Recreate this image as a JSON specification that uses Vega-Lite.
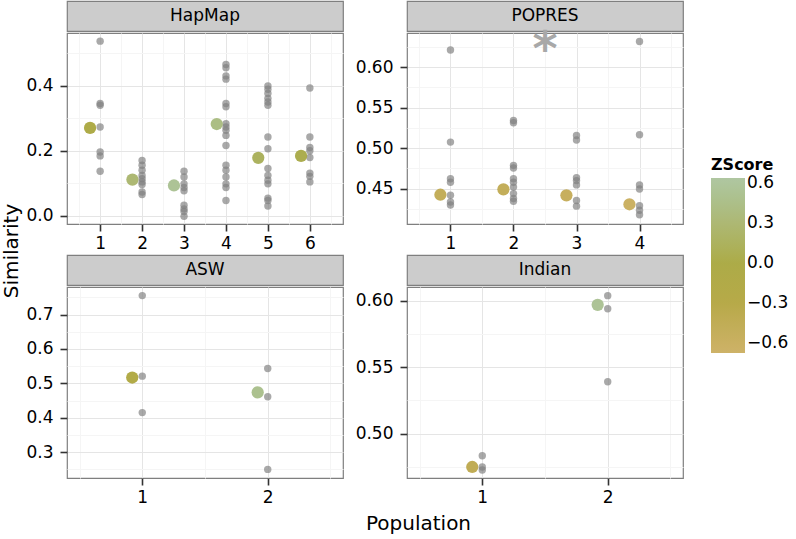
{
  "$schema": "https://vega.github.io/schema/vega-lite/v6.json",
  "padding": {"left": 0, "top": 0, "right": 0, "bottom": 0},
  "background": "white",
  "spacing": -2,
  "datasets": {
    "pts": [
      {"Panel": "HapMap", "Population": 1, "Similarity": 0.537},
      {"Panel": "HapMap", "Population": 1, "Similarity": 0.345},
      {"Panel": "HapMap", "Population": 1, "Similarity": 0.340},
      {"Panel": "HapMap", "Population": 1, "Similarity": 0.273},
      {"Panel": "HapMap", "Population": 1, "Similarity": 0.196},
      {"Panel": "HapMap", "Population": 1, "Similarity": 0.184},
      {"Panel": "HapMap", "Population": 1, "Similarity": 0.137},
      {"Panel": "HapMap", "Population": 2, "Similarity": 0.170},
      {"Panel": "HapMap", "Population": 2, "Similarity": 0.155},
      {"Panel": "HapMap", "Population": 2, "Similarity": 0.140},
      {"Panel": "HapMap", "Population": 2, "Similarity": 0.124},
      {"Panel": "HapMap", "Population": 2, "Similarity": 0.114},
      {"Panel": "HapMap", "Population": 2, "Similarity": 0.104},
      {"Panel": "HapMap", "Population": 2, "Similarity": 0.096},
      {"Panel": "HapMap", "Population": 2, "Similarity": 0.073},
      {"Panel": "HapMap", "Population": 2, "Similarity": 0.065},
      {"Panel": "HapMap", "Population": 3, "Similarity": 0.137},
      {"Panel": "HapMap", "Population": 3, "Similarity": 0.119},
      {"Panel": "HapMap", "Population": 3, "Similarity": 0.098},
      {"Panel": "HapMap", "Population": 3, "Similarity": 0.087},
      {"Panel": "HapMap", "Population": 3, "Similarity": 0.077},
      {"Panel": "HapMap", "Population": 3, "Similarity": 0.032},
      {"Panel": "HapMap", "Population": 3, "Similarity": 0.021},
      {"Panel": "HapMap", "Population": 3, "Similarity": 0.013},
      {"Panel": "HapMap", "Population": 3, "Similarity": -0.002},
      {"Panel": "HapMap", "Population": 4, "Similarity": 0.465},
      {"Panel": "HapMap", "Population": 4, "Similarity": 0.455},
      {"Panel": "HapMap", "Population": 4, "Similarity": 0.430},
      {"Panel": "HapMap", "Population": 4, "Similarity": 0.420},
      {"Panel": "HapMap", "Population": 4, "Similarity": 0.345},
      {"Panel": "HapMap", "Population": 4, "Similarity": 0.335},
      {"Panel": "HapMap", "Population": 4, "Similarity": 0.283},
      {"Panel": "HapMap", "Population": 4, "Similarity": 0.273},
      {"Panel": "HapMap", "Population": 4, "Similarity": 0.263},
      {"Panel": "HapMap", "Population": 4, "Similarity": 0.247},
      {"Panel": "HapMap", "Population": 4, "Similarity": 0.216},
      {"Panel": "HapMap", "Population": 4, "Similarity": 0.155},
      {"Panel": "HapMap", "Population": 4, "Similarity": 0.140},
      {"Panel": "HapMap", "Population": 4, "Similarity": 0.119},
      {"Panel": "HapMap", "Population": 4, "Similarity": 0.098},
      {"Panel": "HapMap", "Population": 4, "Similarity": 0.087},
      {"Panel": "HapMap", "Population": 4, "Similarity": 0.047},
      {"Panel": "HapMap", "Population": 5, "Similarity": 0.399},
      {"Panel": "HapMap", "Population": 5, "Similarity": 0.389},
      {"Panel": "HapMap", "Population": 5, "Similarity": 0.376},
      {"Panel": "HapMap", "Population": 5, "Similarity": 0.361},
      {"Panel": "HapMap", "Population": 5, "Similarity": 0.350},
      {"Panel": "HapMap", "Population": 5, "Similarity": 0.340},
      {"Panel": "HapMap", "Population": 5, "Similarity": 0.242},
      {"Panel": "HapMap", "Population": 5, "Similarity": 0.206},
      {"Panel": "HapMap", "Population": 5, "Similarity": 0.145},
      {"Panel": "HapMap", "Population": 5, "Similarity": 0.124},
      {"Panel": "HapMap", "Population": 5, "Similarity": 0.109},
      {"Panel": "HapMap", "Population": 5, "Similarity": 0.098},
      {"Panel": "HapMap", "Population": 5, "Similarity": 0.054},
      {"Panel": "HapMap", "Population": 5, "Similarity": 0.047},
      {"Panel": "HapMap", "Population": 5, "Similarity": 0.030},
      {"Panel": "HapMap", "Population": 6, "Similarity": 0.393},
      {"Panel": "HapMap", "Population": 6, "Similarity": 0.242},
      {"Panel": "HapMap", "Population": 6, "Similarity": 0.210},
      {"Panel": "HapMap", "Population": 6, "Similarity": 0.200},
      {"Panel": "HapMap", "Population": 6, "Similarity": 0.179},
      {"Panel": "HapMap", "Population": 6, "Similarity": 0.131},
      {"Panel": "HapMap", "Population": 6, "Similarity": 0.121},
      {"Panel": "HapMap", "Population": 6, "Similarity": 0.104},
      {"Panel": "POPRES", "Population": 1, "Similarity": 0.621},
      {"Panel": "POPRES", "Population": 1, "Similarity": 0.5075},
      {"Panel": "POPRES", "Population": 1, "Similarity": 0.4623},
      {"Panel": "POPRES", "Population": 1, "Similarity": 0.458},
      {"Panel": "POPRES", "Population": 1, "Similarity": 0.442},
      {"Panel": "POPRES", "Population": 1, "Similarity": 0.4336},
      {"Panel": "POPRES", "Population": 1, "Similarity": 0.430},
      {"Panel": "POPRES", "Population": 2, "Similarity": 0.5342},
      {"Panel": "POPRES", "Population": 2, "Similarity": 0.5313},
      {"Panel": "POPRES", "Population": 2, "Similarity": 0.4788},
      {"Panel": "POPRES", "Population": 2, "Similarity": 0.4755},
      {"Panel": "POPRES", "Population": 2, "Similarity": 0.4623},
      {"Panel": "POPRES", "Population": 2, "Similarity": 0.458},
      {"Panel": "POPRES", "Population": 2, "Similarity": 0.452},
      {"Panel": "POPRES", "Population": 2, "Similarity": 0.444},
      {"Panel": "POPRES", "Population": 2, "Similarity": 0.438},
      {"Panel": "POPRES", "Population": 2, "Similarity": 0.4346},
      {"Panel": "POPRES", "Population": 3, "Similarity": 0.5157},
      {"Panel": "POPRES", "Population": 3, "Similarity": 0.510},
      {"Panel": "POPRES", "Population": 3, "Similarity": 0.4635},
      {"Panel": "POPRES", "Population": 3, "Similarity": 0.460},
      {"Panel": "POPRES", "Population": 3, "Similarity": 0.4547},
      {"Panel": "POPRES", "Population": 3, "Similarity": 0.4355},
      {"Panel": "POPRES", "Population": 3, "Similarity": 0.4285},
      {"Panel": "POPRES", "Population": 4, "Similarity": 0.6315},
      {"Panel": "POPRES", "Population": 4, "Similarity": 0.5165},
      {"Panel": "POPRES", "Population": 4, "Similarity": 0.4547},
      {"Panel": "POPRES", "Population": 4, "Similarity": 0.4497},
      {"Panel": "POPRES", "Population": 4, "Similarity": 0.429},
      {"Panel": "POPRES", "Population": 4, "Similarity": 0.4235},
      {"Panel": "POPRES", "Population": 4, "Similarity": 0.418},
      {"Panel": "ASW", "Population": 1, "Similarity": 0.755},
      {"Panel": "ASW", "Population": 1, "Similarity": 0.521},
      {"Panel": "ASW", "Population": 1, "Similarity": 0.415},
      {"Panel": "ASW", "Population": 2, "Similarity": 0.543},
      {"Panel": "ASW", "Population": 2, "Similarity": 0.461},
      {"Panel": "ASW", "Population": 2, "Similarity": 0.250},
      {"Panel": "Indian", "Population": 1, "Similarity": 0.4833},
      {"Panel": "Indian", "Population": 1, "Similarity": 0.4749},
      {"Panel": "Indian", "Population": 1, "Similarity": 0.4726},
      {"Panel": "Indian", "Population": 2, "Similarity": 0.6037},
      {"Panel": "Indian", "Population": 2, "Similarity": 0.5938},
      {"Panel": "Indian", "Population": 2, "Similarity": 0.539}
    ],
    "means": [
      {"Panel": "HapMap", "Population": 0.76, "Similarity": 0.270, "ZScore": -0.05},
      {"Panel": "HapMap", "Population": 1.77, "Similarity": 0.111, "ZScore": 0.3},
      {"Panel": "HapMap", "Population": 2.76, "Similarity": 0.093, "ZScore": 0.55},
      {"Panel": "HapMap", "Population": 3.78, "Similarity": 0.282, "ZScore": 0.42},
      {"Panel": "HapMap", "Population": 4.77, "Similarity": 0.178, "ZScore": 0.15},
      {"Panel": "HapMap", "Population": 5.79, "Similarity": 0.184, "ZScore": 0.05},
      {"Panel": "POPRES", "Population": 0.84, "Similarity": 0.4426, "ZScore": -0.5},
      {"Panel": "POPRES", "Population": 1.84, "Similarity": 0.4492, "ZScore": -0.5},
      {"Panel": "POPRES", "Population": 2.84, "Similarity": 0.4418, "ZScore": -0.55},
      {"Panel": "POPRES", "Population": 3.84, "Similarity": 0.4308, "ZScore": -0.62},
      {"Panel": "ASW", "Population": 0.92, "Similarity": 0.517, "ZScore": -0.15},
      {"Panel": "ASW", "Population": 1.92, "Similarity": 0.474, "ZScore": 0.5},
      {"Panel": "Indian", "Population": 0.92, "Similarity": 0.4749, "ZScore": -0.45},
      {"Panel": "Indian", "Population": 1.92, "Similarity": 0.5968, "ZScore": 0.55}
    ],
    "marks": [
      {"Panel": "POPRES", "Population": 2.5, "Similarity": 0.642, "label": "*"}
    ]
  },
  "hconcat": [
    {
      "width": 24, "height": 500,
      "view": {"stroke": null},
      "data": {"values": [{"t": "Similarity"}]},
      "mark": {"type": "text", "angle": 270, "font": "DejaVu Sans", "fontSize": 20, "color": "#000"},
      "encoding": {"text": {"field": "t"}}
    },
    {
      "spacing": -7,
      "vconcat": [
        {
          "spacing": 7,
          "hconcat": [
            {
              "spacing": 0,
              "vconcat": [
                {
                  "width": 276, "height": 30,
                  "view": {"fill": "#CCCCCC", "stroke": "#7F7F7F", "strokeWidth": 1.2},
                  "data": {"values": [{"t": "HapMap"}]},
                  "mark": {"type": "text", "font": "DejaVu Sans", "fontSize": 17, "color": "#000"},
                  "encoding": {"text": {"field": "t"},
                    "y": {"field": "t", "type": "nominal", "axis": {"labels": false, "ticks": false, "domain": false, "grid": false, "title": null, "minExtent": 44, "maxExtent": 44}}}
                },
                {
                  "width": 276, "height": 191,
                  "view": {"stroke": "#7F7F7F", "strokeWidth": 1.2},
                  "encoding": {
                    "x": {"field": "Population", "type": "quantitative",
                      "scale": {"domain": [0.21, 6.79], "nice": false, "zero": false},
                      "axis": {"values": [0.5, 1, 1.5, 2, 2.5, 3, 3.5, 4, 4.5, 5, 5.5, 6, 6.5],
                        "labelExpr": "datum.value % 1 == 0 ? format(datum.value, 'd') : ''",
                        "tickOpacity": {"condition": {"test": "datum.value % 1 == 0", "value": 1}, "value": 0},
                        "gridColor": {"condition": {"test": "datum.value % 1 == 0", "value": "#E5E5E5"}, "value": "#F5F5F5"}}},
                    "y": {"field": "Similarity", "type": "quantitative",
                      "scale": {"domain": [-0.0255, 0.562], "nice": false, "zero": false},
                      "axis": {"minExtent": 44, "values": [0, 0.1, 0.2, 0.3, 0.4, 0.5],
                        "labelExpr": "round(datum.value * 10) % 2 == 0 ? format(datum.value, '.1f') : ''",
                        "tickOpacity": {"condition": {"test": "round(datum.value * 10) % 2 == 0", "value": 1}, "value": 0},
                        "gridColor": {"condition": {"test": "round(datum.value * 10) % 2 == 0", "value": "#E5E5E5"}, "value": "#F5F5F5"}}}
                  },
                  "layer": [
                    {"data": {"name": "pts"}, "transform": [{"filter": "datum.Panel == 'HapMap'"}],
                      "mark": {"type": "circle", "size": 55, "color": "#808080", "opacity": 0.68}},
                    {"data": {"name": "means"}, "transform": [{"filter": "datum.Panel == 'HapMap'"}],
                      "mark": {"type": "circle", "size": 150, "opacity": 0.95},
                      "encoding": {"color": {"field": "ZScore", "type": "quantitative",
                        "scale": {"domain": [-0.675, -0.3, 0, 0.3, 0.64], "range": ["#CBAE60", "#B3A53F", "#A8A73E", "#A9B46C", "#ABC39C"]},
                        "legend": {"orient": "none", "legendX": 711, "legendY": 156, "title": "ZScore", "values": [-0.6, -0.3, 0, 0.3, 0.6], "format": ".1f", "direction": "vertical", "gradientLength": 175, "gradientThickness": 34}}}}
                  ]
                }
              ]
            },
            {
              "spacing": -6,
              "vconcat": [
                {
                  "width": 276, "height": 30,
                  "view": {"fill": "#CCCCCC", "stroke": "#7F7F7F", "strokeWidth": 1.2},
                  "data": {"values": [{"t": "POPRES"}]},
                  "mark": {"type": "text", "font": "DejaVu Sans", "fontSize": 17, "color": "#000"},
                  "encoding": {"text": {"field": "t"},
                    "y": {"field": "t", "type": "nominal", "axis": {"labels": false, "ticks": false, "domain": false, "grid": false, "title": null, "minExtent": 55, "maxExtent": 55}}}
                },
                {
                  "width": 276, "height": 191,
                  "view": {"stroke": "#7F7F7F", "strokeWidth": 1.2},
                  "encoding": {
                    "x": {"field": "Population", "type": "quantitative",
                      "scale": {"domain": [0.31, 4.69], "nice": false, "zero": false},
                      "axis": {"values": [0.5, 1, 1.5, 2, 2.5, 3, 3.5, 4, 4.5],
                        "labelExpr": "datum.value % 1 == 0 ? format(datum.value, 'd') : ''",
                        "tickOpacity": {"condition": {"test": "datum.value % 1 == 0", "value": 1}, "value": 0},
                        "gridColor": {"condition": {"test": "datum.value % 1 == 0", "value": "#E5E5E5"}, "value": "#F5F5F5"}}},
                    "y": {"field": "Similarity", "type": "quantitative",
                      "scale": {"domain": [0.4065, 0.642], "nice": false, "zero": false},
                      "axis": {"minExtent": 55, "values": [0.425, 0.45, 0.475, 0.5, 0.525, 0.55, 0.575, 0.6, 0.625],
                        "labelExpr": "round(datum.value * 40) % 2 == 0 ? format(datum.value, '.2f') : ''",
                        "tickOpacity": {"condition": {"test": "round(datum.value * 40) % 2 == 0", "value": 1}, "value": 0},
                        "gridColor": {"condition": {"test": "round(datum.value * 40) % 2 == 0", "value": "#E5E5E5"}, "value": "#F5F5F5"}}}
                  },
                  "layer": [
                    {"data": {"name": "pts"}, "transform": [{"filter": "datum.Panel == 'POPRES'"}],
                      "mark": {"type": "circle", "size": 55, "color": "#808080", "opacity": 0.68}},
                    {"data": {"name": "means"}, "transform": [{"filter": "datum.Panel == 'POPRES'"}],
                      "mark": {"type": "circle", "size": 150, "opacity": 0.95},
                      "encoding": {"color": {"field": "ZScore", "type": "quantitative",
                        "scale": {"domain": [-0.675, -0.3, 0, 0.3, 0.64], "range": ["#CBAE60", "#B3A53F", "#A8A73E", "#A9B46C", "#ABC39C"]},
                        "legend": {"orient": "none", "legendX": 711, "legendY": 156, "title": "ZScore", "values": [-0.6, -0.3, 0, 0.3, 0.6], "format": ".1f", "direction": "vertical", "gradientLength": 175, "gradientThickness": 34}}}},
                    {"data": {"name": "marks"},
                      "mark": {"type": "text", "font": "DejaVu Sans", "fontSize": 48, "fontWeight": "bold", "color": "#A8A8A8", "baseline": "top", "dy": -6},
                      "encoding": {"text": {"field": "label"}}}
                  ]
                }
              ]
            }
          ]
        },
        {
          "spacing": 7,
          "hconcat": [
            {
              "spacing": 0,
              "vconcat": [
                {
                  "width": 276, "height": 30,
                  "view": {"fill": "#CCCCCC", "stroke": "#7F7F7F", "strokeWidth": 1.2},
                  "data": {"values": [{"t": "ASW"}]},
                  "mark": {"type": "text", "font": "DejaVu Sans", "fontSize": 17, "color": "#000"},
                  "encoding": {"text": {"field": "t"},
                    "y": {"field": "t", "type": "nominal", "axis": {"labels": false, "ticks": false, "domain": false, "grid": false, "title": null, "minExtent": 44, "maxExtent": 44}}}
                },
                {
                  "width": 276, "height": 191,
                  "view": {"stroke": "#7F7F7F", "strokeWidth": 1.2},
                  "encoding": {
                    "x": {"field": "Population", "type": "quantitative",
                      "scale": {"domain": [0.4, 2.6], "nice": false, "zero": false},
                      "axis": {"values": [0.5, 1, 1.5, 2, 2.5],
                        "labelExpr": "datum.value % 1 == 0 ? format(datum.value, 'd') : ''",
                        "tickOpacity": {"condition": {"test": "datum.value % 1 == 0", "value": 1}, "value": 0},
                        "gridColor": {"condition": {"test": "datum.value % 1 == 0", "value": "#E5E5E5"}, "value": "#F5F5F5"}}},
                    "y": {"field": "Similarity", "type": "quantitative",
                      "scale": {"domain": [0.225, 0.78], "nice": false, "zero": false},
                      "axis": {"minExtent": 44, "values": [0.25, 0.3, 0.35, 0.4, 0.45, 0.5, 0.55, 0.6, 0.65, 0.7, 0.75],
                        "labelExpr": "round(datum.value * 20) % 2 == 0 ? format(datum.value, '.1f') : ''",
                        "tickOpacity": {"condition": {"test": "round(datum.value * 20) % 2 == 0", "value": 1}, "value": 0},
                        "gridColor": {"condition": {"test": "round(datum.value * 20) % 2 == 0", "value": "#E5E5E5"}, "value": "#F5F5F5"}}}
                  },
                  "layer": [
                    {"data": {"name": "pts"}, "transform": [{"filter": "datum.Panel == 'ASW'"}],
                      "mark": {"type": "circle", "size": 55, "color": "#808080", "opacity": 0.68}},
                    {"data": {"name": "means"}, "transform": [{"filter": "datum.Panel == 'ASW'"}],
                      "mark": {"type": "circle", "size": 150, "opacity": 0.95},
                      "encoding": {"color": {"field": "ZScore", "type": "quantitative",
                        "scale": {"domain": [-0.675, -0.3, 0, 0.3, 0.64], "range": ["#CBAE60", "#B3A53F", "#A8A73E", "#A9B46C", "#ABC39C"]},
                        "legend": {"orient": "none", "legendX": 711, "legendY": 156, "title": "ZScore", "values": [-0.6, -0.3, 0, 0.3, 0.6], "format": ".1f", "direction": "vertical", "gradientLength": 175, "gradientThickness": 34}}}}
                  ]
                }
              ]
            },
            {
              "spacing": 0,
              "vconcat": [
                {
                  "width": 276, "height": 30,
                  "view": {"fill": "#CCCCCC", "stroke": "#7F7F7F", "strokeWidth": 1.2},
                  "data": {"values": [{"t": "Indian"}]},
                  "mark": {"type": "text", "font": "DejaVu Sans", "fontSize": 17, "color": "#000"},
                  "encoding": {"text": {"field": "t"},
                    "y": {"field": "t", "type": "nominal", "axis": {"labels": false, "ticks": false, "domain": false, "grid": false, "title": null, "minExtent": 55, "maxExtent": 55}}}
                },
                {
                  "width": 276, "height": 191,
                  "view": {"stroke": "#7F7F7F", "strokeWidth": 1.2},
                  "encoding": {
                    "x": {"field": "Population", "type": "quantitative",
                      "scale": {"domain": [0.4, 2.6], "nice": false, "zero": false},
                      "axis": {"values": [0.5, 1, 1.5, 2, 2.5],
                        "labelExpr": "datum.value % 1 == 0 ? format(datum.value, 'd') : ''",
                        "tickOpacity": {"condition": {"test": "datum.value % 1 == 0", "value": 1}, "value": 0},
                        "gridColor": {"condition": {"test": "datum.value % 1 == 0", "value": "#E5E5E5"}, "value": "#F5F5F5"}}},
                    "y": {"field": "Similarity", "type": "quantitative",
                      "scale": {"domain": [0.4666, 0.6102], "nice": false, "zero": false},
                      "axis": {"minExtent": 55, "values": [0.475, 0.5, 0.525, 0.55, 0.575, 0.6],
                        "labelExpr": "round(datum.value * 40) % 2 == 0 ? format(datum.value, '.2f') : ''",
                        "tickOpacity": {"condition": {"test": "round(datum.value * 40) % 2 == 0", "value": 1}, "value": 0},
                        "gridColor": {"condition": {"test": "round(datum.value * 40) % 2 == 0", "value": "#E5E5E5"}, "value": "#F5F5F5"}}}
                  },
                  "layer": [
                    {"data": {"name": "pts"}, "transform": [{"filter": "datum.Panel == 'Indian'"}],
                      "mark": {"type": "circle", "size": 55, "color": "#808080", "opacity": 0.68}},
                    {"data": {"name": "means"}, "transform": [{"filter": "datum.Panel == 'Indian'"}],
                      "mark": {"type": "circle", "size": 150, "opacity": 0.95},
                      "encoding": {"color": {"field": "ZScore", "type": "quantitative",
                        "scale": {"domain": [-0.675, -0.3, 0, 0.3, 0.64], "range": ["#CBAE60", "#B3A53F", "#A8A73E", "#A9B46C", "#ABC39C"]},
                        "legend": {"orient": "none", "legendX": 711, "legendY": 156, "title": "ZScore", "values": [-0.6, -0.3, 0, 0.3, 0.6], "format": ".1f", "direction": "vertical", "gradientLength": 175, "gradientThickness": 34}}}}
                  ]
                }
              ]
            }
          ]
        },
        {
          "width": 703, "height": 30,
          "view": {"stroke": null},
          "data": {"values": [{"t": "Population"}]},
          "mark": {"type": "text", "font": "DejaVu Sans", "fontSize": 20, "color": "#000"},
          "encoding": {"text": {"field": "t"}}
        }
      ]
    }
  ],
  "config": {
    "axis": {
      "title": null,
      "domain": false,
      "grid": true,
      "gridWidth": 1,
      "tickColor": "#333333",
      "tickWidth": 1.6,
      "tickSize": 7,
      "labelFont": "DejaVu Sans",
      "labelFontSize": 17,
      "labelColor": "#000000",
      "labelOverlap": false,
      "labelFlush": false
    },
    "axisX": {"labelPadding": 4, "minExtent": 30},
    "axisY": {"labelPadding": 7},
    "legend": {
      "titleFont": "DejaVu Sans",
      "titleFontSize": 16,
      "titleFontWeight": "bold",
      "titleColor": "#000000",
      "titlePadding": 5,
      "labelFont": "DejaVu Sans",
      "labelFontSize": 17,
      "labelColor": "#000000",
      "labelOffset": 4,
      "gradientStrokeWidth": 0
    }
  }
}
